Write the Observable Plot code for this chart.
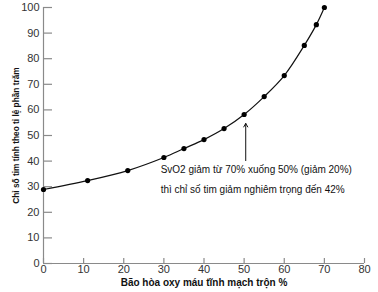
<!DOCTYPE html>
<html>
<head>
<meta charset="utf-8">
<script src="https://cdn.jsdelivr.net/npm/d3@7"></script>
<script src="https://cdn.jsdelivr.net/npm/@observablehq/plot@0.6"></script>
<style>
  html, body { margin: 0; padding: 0; background: #fff; }
  #chart svg { font-family: "Liberation Sans", Arial, sans-serif; }
  #chart [aria-label="x-axis label"] text { font-size: 10px; font-weight: bold; fill: #111; }
  #chart [aria-label="y-axis label"] text { font-size: 8.3px; font-weight: bold; fill: #111; }
</style>
</head>
<body>
<div id="chart"></div>
<script>
// Data
const svo2 = [0, 11, 21, 30, 35, 40, 45, 50, 55, 60, 65, 68, 70];
const cardiacIndex = [28.9, 32.4, 36.3, 41.4, 44.9, 48.4, 52.7, 58.2, 65.2, 73.4, 85.2, 93.3, 100];
const xTicks = [0, 10, 20, 30, 40, 50, 60, 70, 80];
const yTicks = [0, 10, 20, 30, 40, 50, 60, 70, 80, 90, 100];
const xLabel = "Bão hòa oxy máu tĩnh mạch trộn %";
const yLabel = "Chỉ số tim tính theo tỉ lệ phần trăm";
const noteLines = ["SvO2 giảm từ 70% xuống 50% (giảm 20%)", "thì chỉ số tim giảm nghiêm trọng đến 42%"];
const noteX = [29.2, 29.2];
const noteY = [36.7, 28.9];
const arrowX = 50.4, arrowFrom = 40.2, arrowTo = 54.7;

const points = svo2.map((x, i) => ({x, y: cardiacIndex[i]}));
const notes = noteLines.map((t, i) => ({t, x: noteX[i], y: noteY[i]}));

const axisColor = "#8a8a8a";

const chart = Plot.plot({
  width: 378,
  height: 292,
  marginLeft: 43,
  marginRight: 14,
  marginTop: 7,
  marginBottom: 29,
  x: {domain: [0, 80]},
  y: {domain: [0, 100]},
  marks: [
    Plot.ruleY([0], {stroke: axisColor, strokeWidth: 1.2}),
    Plot.ruleX([0], {stroke: axisColor, strokeWidth: 1.2}),
    Plot.ruleX(xTicks, {x: d => d, y1: 0, y2: 0, insetTop: -5, stroke: axisColor, strokeWidth: 1.2}),
    Plot.ruleY(yTicks, {y: d => d, x1: 0, x2: 0, insetRight: -9, stroke: axisColor, strokeWidth: 1.2}),
    Plot.axisX({ticks: xTicks, tickSize: 0, tickPadding: 2, fontSize: 11, color: "#333", label: xLabel, labelAnchor: "center", labelArrow: "none", labelOffset: 22}),
    Plot.axisY({ticks: yTicks, tickSize: 0, tickPadding: 4, fontSize: 11, color: "#333", label: yLabel, labelAnchor: "center", labelArrow: "none", labelOffset: 30}),
    Plot.line(points, {x: "x", y: "y", stroke: "#111", strokeWidth: 1.2, curve: "catmull-rom"}),
    Plot.dot(points, {x: "x", y: "y", fill: "#000", r: 2.6}),
    Plot.arrow([{x: arrowX, y1: arrowFrom, y2: arrowTo}], {x1: "x", x2: "x", y1: "y1", y2: "y2", stroke: "#111", strokeWidth: 1, headLength: 6}),
    Plot.text(notes, {x: "x", y: "y", text: "t", textAnchor: "start", fontSize: 10, fill: "#111"})
  ]
});
document.getElementById("chart").appendChild(chart);
</script>
</body>
</html>
